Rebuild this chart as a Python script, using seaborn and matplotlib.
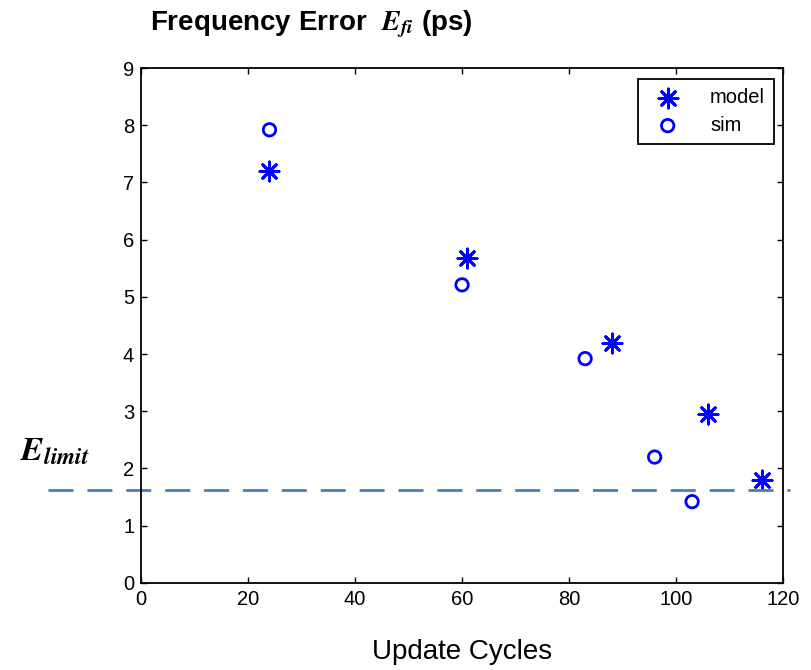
import matplotlib
matplotlib.use("Agg")
import matplotlib.pyplot as plt
import matplotlib.transforms as mtransforms
import seaborn as sns

# Data
model_cycles = [24, 61, 88, 106, 116]
model_error = [7.2, 5.68, 4.2, 2.96, 1.8]
sim_cycles = [24, 60, 83, 96, 103]
sim_error = [7.92, 5.21, 3.92, 2.2, 1.42]
e_limit = 1.63
x_ticks = [0, 20, 40, 60, 80, 100, 120]
y_ticks = list(range(0, 10))

sns.set_style("ticks")
plt.rcParams["font.family"] = ["Liberation Sans", "DejaVu Sans"]
plt.rcParams["mathtext.fontset"] = "stix"
plt.rcParams["xtick.direction"] = "in"
plt.rcParams["ytick.direction"] = "in"
plt.rcParams["text.color"] = "black"
plt.rcParams["axes.labelcolor"] = "black"

fig = plt.figure(figsize=(8.11, 6.70), dpi=100)
ax = fig.add_axes([0.174, 0.130, 0.7915, 0.7685])

blue = "#0000ff"
sns.scatterplot(x=model_cycles, y=model_error, ax=ax, marker=(8, 2, 0), s=190,
                color=blue, linewidth=2, label="model")
sns.scatterplot(x=sim_cycles, y=sim_error, ax=ax, marker="o", s=80,
                color=blue, facecolor="none", edgecolor=blue, linewidth=2,
                label="sim")

# limit line, running past the axes on both sides
trans = mtransforms.blended_transform_factory(fig.transFigure, ax.transData)
ax.plot([48 / 811, 790 / 811], [e_limit, e_limit], transform=trans,
        color="#4a7ebb", linestyle=(0, (9, 5)), linewidth=2, clip_on=False)

ax.set_xlim(0, 120)
ax.set_ylim(0, 9)
ax.set_xticks(x_ticks)
ax.set_yticks(y_ticks)
ax.tick_params(axis="both", which="both", top=True, right=True, length=4,
               width=1, labelsize=14.5, colors="black", pad=5)
for sp in ax.spines.values():
    sp.set_visible(True)
    sp.set_color("black")
    sp.set_linewidth(1.3)

ax.set_xlabel("Update Cycles", fontsize=20, labelpad=22, color="black")
ax.set_ylabel("")

leg = ax.legend(loc="upper right", bbox_to_anchor=(0.986, 0.979), fontsize=14.5,
                frameon=True, fancybox=False, edgecolor="black", framealpha=1,
                borderpad=0.45, labelspacing=0.45, handletextpad=1.1,
                handlelength=2.0, borderaxespad=0)
leg.get_frame().set_linewidth(1.3)
for t in leg.get_texts():
    t.set_color("black")

fig.text(150 / 811, 1 - 24 / 670,
         r"Frequency Error  $\mathbfit{E}_{\mathbfit{fi}}$ (ps)",
         fontsize=20, fontweight="bold", ha="left", va="center", color="black")
fig.text(20 / 811, 1 - 452 / 670, r"$\mathbfit{E}_{\mathbfit{limit}}$",
         fontsize=24, ha="left", va="center", color="black")

fig.savefig("out.png", dpi=100)
